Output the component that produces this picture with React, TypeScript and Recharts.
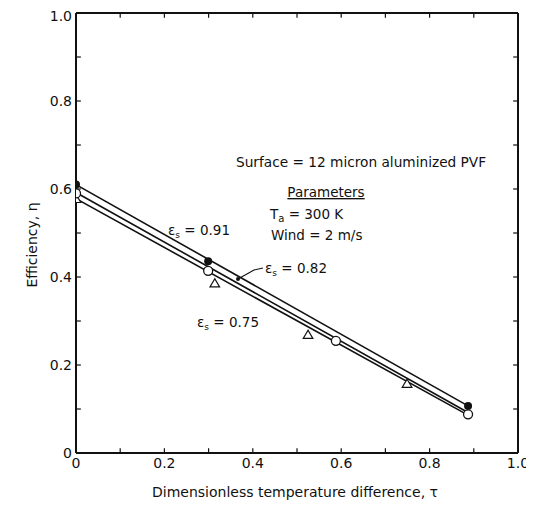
import React from 'react';
import { ComposedChart, Scatter, XAxis, YAxis, ReferenceLine } from 'recharts';

// ---- data ----
const xTicks = [0, 0.2, 0.4, 0.6, 0.8, 1.0];
const xTickLabels = ['0', '0.2', '0.4', '0.6', '0.8', '1.0'];
const yTicks = [0, 0.2, 0.4, 0.6, 0.8, 1.0];
const yTickLabels = ['0', '0.2', '0.4', '0.6', '0.8', '1.0'];
const minorTicks = [0.1, 0.2, 0.3, 0.4, 0.5, 0.6, 0.7, 0.8, 0.9];

// measured points
const pts091 = [
  { x: 0, y: 0.61 },
  { x: 0.299, y: 0.436 },
  { x: 0.887, y: 0.107 },
];
const pts082 = [
  { x: 0, y: 0.59 },
  { x: 0.299, y: 0.414 },
  { x: 0.588, y: 0.255 },
  { x: 0.887, y: 0.088 },
];
const pts075 = [
  { x: 0, y: 0.577 },
  { x: 0.314, y: 0.385 },
  { x: 0.525, y: 0.268 },
  { x: 0.749, y: 0.157 },
];

// fitted lines
const fit091 = [
  { x: 0, y: 0.61 },
  { x: 0.887, y: 0.107 },
];
const fit082 = [
  { x: 0, y: 0.592 },
  { x: 0.887, y: 0.092 },
];
const fit075 = [
  { x: 0, y: 0.578 },
  { x: 0.887, y: 0.086 },
];

const INK = '#111';
const FONT = '"DejaVu Sans", sans-serif';
const TICK_LEN = 0.011;

const FilledCircle = (p: any) => <circle cx={p.cx} cy={p.cy} r={4} fill={INK} />;
const OpenCircle = (p: any) => (
  <circle cx={p.cx} cy={p.cy} r={4.5} fill="#fff" stroke={INK} strokeWidth={1.3} />
);
const OpenTriangle = (p: any) => {
  const s = 4.8;
  const pts = `${p.cx},${p.cy - s} ${p.cx - s},${p.cy + s * 0.7} ${p.cx + s},${p.cy + s * 0.7}`;
  return <polygon points={pts} fill="#fff" stroke={INK} strokeWidth={1.2} />;
};
const NoShape = () => <g />;

export default function App() {
  const W = 526;
  const H = 495;
  const tickStyle = { fill: INK, fontSize: 14, fontFamily: FONT };
  return (
    <div style={{ position: 'relative', width: W, height: H }}>
      <ComposedChart
        width={W}
        height={H}
        margin={{ top: 5, right: 16, bottom: 5, left: 18 }}
      >
        <XAxis
          type="number"
          dataKey="x"
          domain={[0, 1]}
          ticks={xTicks}
          tickFormatter={(v: number, i: number) => xTickLabels[i]}
          tickSize={0}
          tickMargin={5}
          tickLine={false}
          axisLine={{ stroke: INK, strokeWidth: 2 }}
          tick={tickStyle}
          height={45}
          allowDataOverflow
        />
        <YAxis
          type="number"
          dataKey="y"
          domain={[0, 1]}
          ticks={yTicks}
          tickFormatter={(v: number, i: number) => yTickLabels[i]}
          tickSize={0}
          tickMargin={4}
          tickLine={false}
          axisLine={{ stroke: INK, strokeWidth: 2 }}
          tick={tickStyle}
          width={50}
          allowDataOverflow
        />
        <ReferenceLine y={1} stroke={INK} strokeWidth={2} />
        <ReferenceLine x={1} stroke={INK} strokeWidth={2} />
        {minorTicks.map((t) => (
          <ReferenceLine
            key={'b' + t}
            segment={[{ x: t, y: 0 }, { x: t, y: TICK_LEN }]}
            stroke={INK}
            strokeWidth={1.2}
          />
        ))}
        {minorTicks.map((t) => (
          <ReferenceLine
            key={'t' + t}
            segment={[{ x: t, y: 1 }, { x: t, y: 1 - TICK_LEN }]}
            stroke={INK}
            strokeWidth={1.2}
          />
        ))}
        {minorTicks.map((t) => (
          <ReferenceLine
            key={'l' + t}
            segment={[{ x: 0, y: t }, { x: TICK_LEN, y: t }]}
            stroke={INK}
            strokeWidth={1.2}
          />
        ))}
        {minorTicks.map((t) => (
          <ReferenceLine
            key={'r' + t}
            segment={[{ x: 1, y: t }, { x: 1 - TICK_LEN, y: t }]}
            stroke={INK}
            strokeWidth={1.2}
          />
        ))}
        <Scatter data={fit075} line={{ stroke: INK, strokeWidth: 1.6 }} shape={NoShape} isAnimationActive={false} />
        <Scatter data={fit082} line={{ stroke: INK, strokeWidth: 1.6 }} shape={NoShape} isAnimationActive={false} />
        <Scatter data={fit091} line={{ stroke: INK, strokeWidth: 1.6 }} shape={NoShape} isAnimationActive={false} />
        <Scatter data={pts075} shape={OpenTriangle} isAnimationActive={false} />
        <Scatter data={pts082} shape={OpenCircle} isAnimationActive={false} />
        <Scatter data={pts091} shape={FilledCircle} isAnimationActive={false} />
      </ComposedChart>
      <svg
        width={W}
        height={H}
        style={{ position: 'absolute', left: 0, top: 0, pointerEvents: 'none' }}
        fontFamily={FONT}
        fill={INK}
      >
        <text x={24} y={237} fontSize={14} textAnchor="middle" dominantBaseline="central" transform="rotate(-90 24 237)">
          Efficiency, η
        </text>
        <text x={287} y={489} fontSize={14} textAnchor="middle">
          Dimensionless temperature difference, τ
        </text>
        <text x={228} y={159} fontSize={13.7}>
          Surface = 12 micron aluminized PVF
        </text>
        <text x={318} y={189} fontSize={13.5} textAnchor="middle" textDecoration="underline">
          Parameters
        </text>
        <text x={262} y={211} fontSize={13.5}>
          T<tspan fontSize={10} dy={3}>a</tspan><tspan dy={-3}> = 300 K</tspan>
        </text>
        <text x={263} y={232} fontSize={13.5}>
          Wind = 2 m/s
        </text>
        <text x={160} y={227} fontSize={13.5}>
          ε<tspan fontSize={9} dy={3}>s</tspan><tspan dy={-3}> = 0.91</tspan>
        </text>
        <text x={257} y={265} fontSize={13.5}>
          ε<tspan fontSize={9} dy={3}>s</tspan><tspan dy={-3}> = 0.82</tspan>
        </text>
        <text x={189} y={319} fontSize={13.5}>
          ε<tspan fontSize={9} dy={3}>s</tspan><tspan dy={-3}> = 0.75</tspan>
        </text>
        <path d="M230,271 L246,262 L255,260" fill="none" stroke={INK} strokeWidth={1.2} />
        <circle cx={230} cy={271} r={2} fill={INK} />
      </svg>
    </div>
  );
}
